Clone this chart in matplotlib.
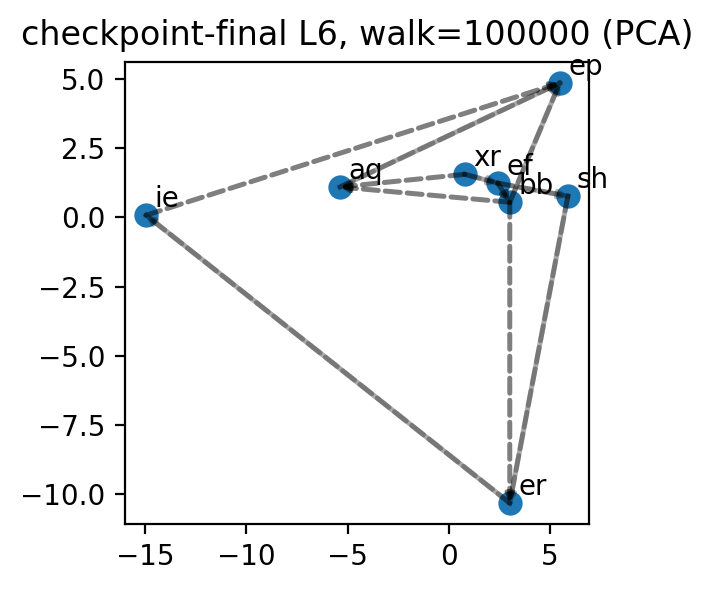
import matplotlib
matplotlib.use("Agg")
import matplotlib.pyplot as plt

names = ["ie", "aq", "xr", "ef", "bb", "sh", "ep", "er"]
xs = [-14.96, -5.38, 0.79, 2.42, 3.01, 5.88, 5.48, 3.01]
ys = [0.08, 1.10, 1.56, 1.24, 0.55, 0.77, 4.86, -10.32]

solid_edges = [("ie", "er"), ("aq", "ep"), ("ep", "bb"), ("er", "sh"),
               ("xr", "ef"), ("ef", "sh")]
arrow_edges = [
    ("ie", "ep"), ("aq", "ep"), ("xr", "aq"), ("bb", "aq"),
    ("xr", "ef"), ("ef", "sh"), ("ef", "bb"), ("bb", "ep"),
    ("bb", "er"), ("sh", "er"), ("er", "ie"),
]

fig = plt.figure(figsize=(3.565, 2.96), dpi=200)
ax = fig.add_axes([0.1753, 0.1149, 0.826 - 0.1753, 0.8953 - 0.1149])

ax.scatter(xs, ys, s=60, color="#1f77b4")
pos = {n: (x, y) for n, x, y in zip(names, xs, ys)}
solid_set = {frozenset(e) for e in solid_edges}
for a, b in solid_edges:
    ax.plot([pos[a][0], pos[b][0]], [pos[a][1], pos[b][1]], color="k",
            alpha=0.33, lw=1.8, zorder=2)
for a, b in arrow_edges:
    al = 0.3 if frozenset((a, b)) in solid_set else 0.5
    ax.annotate("", xy=pos[b], xytext=pos[a],
                arrowprops=dict(arrowstyle="-|>", linestyle=(0, (3, 1.4)),
                                color="k", alpha=al, lw=1.8,
                                mutation_scale=5, shrinkA=0, shrinkB=0))
for n, x, y in zip(names, xs, ys):
    ax.annotate(n, (x, y), xytext=(3, 3), textcoords="offset points", fontsize=10)

ax.set_title("checkpoint-final L6, walk=100000 (PCA)", fontsize=12)
fig.savefig("out.png", dpi=200)
